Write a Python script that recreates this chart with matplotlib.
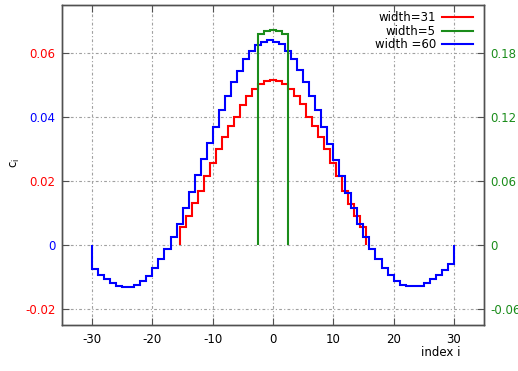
import numpy as np
import matplotlib
matplotlib.use("Agg")
import matplotlib.pyplot as plt
from matplotlib.lines import Line2D

# ---- data ----
blue_edges_start = -30
blue_values = [-0.0076, -0.0094, -0.0105, -0.0120, -0.0127, -0.0130, -0.0130, -0.0125,
               -0.0112, -0.0096, -0.0073, -0.0045, -0.0013, 0.0026, 0.0066, 0.0115,
               0.0165, 0.0219, 0.0268, 0.0318, 0.0370, 0.0422, 0.0467, 0.0508,
               0.0545, 0.0580, 0.0607, 0.0625, 0.0635, 0.0641, 0.0634, 0.0627,
               0.0607, 0.0580, 0.0547, 0.0508, 0.0466, 0.0422, 0.0368, 0.0317,
               0.0266, 0.0216, 0.0163, 0.0115, 0.0066, 0.0026, -0.0013, -0.0045,
               -0.0071, -0.0095, -0.0112, -0.0124, -0.0129, -0.0129, -0.0127, -0.0120,
               -0.0107, -0.0094, -0.0078, -0.0059]
red_values = [0.0055, 0.0091, 0.0130, 0.0170, 0.0216, 0.0255, 0.0299, 0.0337,
              0.0372, 0.0401, 0.0438, 0.0466, 0.0487, 0.0503, 0.0512, 0.0516,
              0.0512, 0.0503, 0.0487, 0.0466, 0.0440, 0.0401, 0.0372, 0.0337,
              0.0299, 0.0255, 0.0216, 0.0170, 0.0129, 0.0091, 0.0055]
green_values = [0.1975, 0.2003, 0.2019, 0.2003, 0.1975]

xticks = [-30, -20, -10, 0, 10, 20, 30]
yticks_left = [-0.02, 0, 0.02, 0.04, 0.06]
ytick_left_labels = ["-0.02", "0", "0.02", "0.04", "0.06"]
ytick_left_colors = ["red", "blue", "red", "blue", "red"]
yticks_right = [-0.06, 0, 0.06, 0.12, 0.18]
ytick_right_labels = ["-0.06", "0", "0.06", "0.12", "0.18"]
labels = ["width=31", "width=5", "width =60"]

RED = "#ff0000"
GREEN = "#1a8c1a"
BLUE = "#0000ff"
FS = 8.5

fig = plt.figure(figsize=(5.18, 3.71), dpi=100)
W, H = 518, 371
x0, x1, y0, y1 = 62, 484, 5, 325
ax = fig.add_axes([x0 / W, 1 - y1 / H, (x1 - x0) / W, (y1 - y0) / H])
ax2 = ax.twinx()

ax.set_xlim(-35, 35)
ax.set_ylim(-0.025, 0.075)
ax2.set_ylim(-0.075, 0.225)

# grid
gridkw = dict(color="#a0a0a0", lw=0.8, ls=(0, (2.5, 2, 1, 2)))
ax.set_xticks(xticks)
ax.set_yticks(yticks_left)
ax.grid(True, **gridkw)
ax.set_axisbelow(True)

# curves
n_b = len(blue_values)
b_edges = np.arange(blue_edges_start, blue_edges_start + n_b + 1)
r_edges = np.arange(len(red_values) + 1) - (len(red_values)) / 2
g_edges = np.arange(len(green_values) + 1) - (len(green_values)) / 2

ax.stairs(red_values, r_edges, baseline=0, color=RED, lw=1.5)
ax.stairs(blue_values, b_edges, baseline=0, color=BLUE, lw=1.5)
ax2.stairs(green_values, g_edges, baseline=0, color=GREEN, lw=1.5)

# ticks
ax.set_xticklabels([str(t) for t in xticks], fontsize=FS)
ax.set_yticklabels(ytick_left_labels, fontsize=FS)
for lbl, c in zip(ax.get_yticklabels(), ytick_left_colors):
    lbl.set_color(c)
ax2.set_yticks(yticks_right)
ax2.set_yticklabels(ytick_right_labels, fontsize=FS, color=GREEN)

ax.tick_params(axis="x", direction="in", length=5, width=0.8, color="#505050",
               top=True, pad=6)
ax.tick_params(axis="y", direction="in", length=5, width=0.8, color="#505050",
               right=False, pad=4.5)
ax2.tick_params(axis="y", direction="in", length=5, width=0.8, color="#505050", pad=4.5)

for a in (ax, ax2):
    for s in a.spines.values():
        s.set_color("#505050")
        s.set_linewidth(1.0)

# labels
fig.text(15 / W, 1 - 163 / H, r"c$_\mathregular{i}$", rotation=90, ha="center",
         va="center", fontsize=FS)
fig.text(441 / W, 1 - 353 / H, "index i", ha="center", va="center", fontsize=FS)

# legend
handles = [Line2D([], [], color=RED, lw=1.5), Line2D([], [], color=GREEN, lw=1.5),
           Line2D([], [], color=BLUE, lw=1.5)]
leg = ax2.legend(handles, labels, loc="upper right", frameon=False,
                 fontsize=FS, markerfirst=False, handlelength=2.6,
                 handletextpad=0.5, labelspacing=0.02, borderaxespad=0.15,
                 alignment="right", bbox_to_anchor=(1 - 5 / 422, 1))

fig.savefig("out.png", dpi=100)
